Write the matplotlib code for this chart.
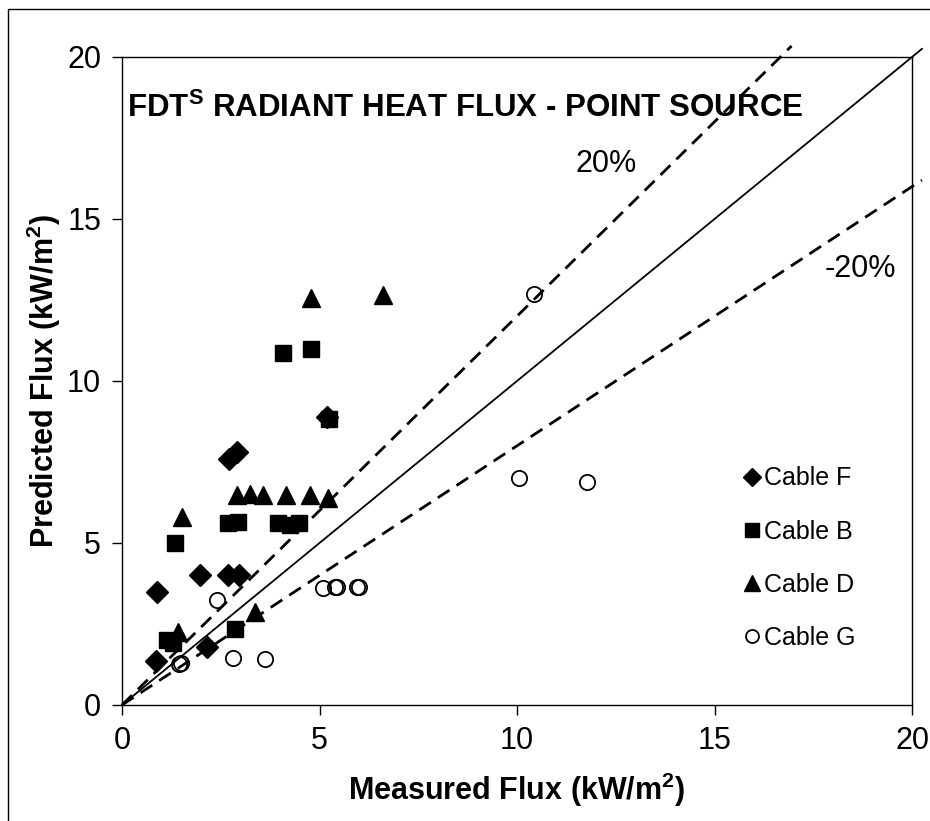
import matplotlib
matplotlib.use("Agg")
import matplotlib.pyplot as plt

plt.rcParams['font.family'] = ['Liberation Sans', 'DejaVu Sans']
plt.rcParams['mathtext.fontset'] = 'custom'
plt.rcParams['mathtext.rm'] = 'Liberation Sans:bold'
plt.rcParams['mathtext.bf'] = 'Liberation Sans:bold'

# measured / predicted heat flux (kW/m2)
f_meas = [0.88, 0.86, 1.97, 2.69, 2.97, 2.14, 2.7, 2.9, 5.18]
f_pred = [3.5, 1.35, 4.0, 4.0, 4.0, 1.78, 7.6, 7.8, 8.9]

b_meas = [4.07, 4.78, 5.23, 1.34, 2.69, 2.94, 3.95, 4.25, 4.48, 2.86, 1.13, 1.30]
b_pred = [10.87, 10.99, 8.83, 5.0, 5.63, 5.65, 5.63, 5.55, 5.63, 2.36, 2.0, 1.9]

d_meas = [4.78, 6.6, 1.53, 2.9, 3.25, 3.56, 4.16, 4.77, 5.22, 3.36, 1.42]
d_pred = [12.55, 12.65, 5.79, 6.48, 6.5, 6.48, 6.48, 6.48, 6.4, 2.88, 2.26]

g_meas = [10.44, 10.06, 11.76, 5.09, 5.38, 5.45, 5.96, 6.0, 2.41, 2.81, 3.62, 1.45, 1.5]
g_pred = [12.7, 7.02, 6.88, 3.6, 3.65, 3.65, 3.65, 3.65, 3.24, 1.44, 1.41, 1.25, 1.3]

# reference lines
line_x = [0, 20.25]
upper_x = [0, 16.95]

fig = plt.figure(figsize=(9.3, 8.21), dpi=100)
ax = fig.add_axes([0.1312, 0.1413, 0.8495, 0.7893])

ax.plot(line_x, line_x, '-', color='black', lw=1.3, clip_on=False, zorder=1)
ax.plot(upper_x, [1.2 * v for v in upper_x], '--', color='black', lw=2.0,
        dashes=(5, 3), clip_on=False, zorder=1)
ax.plot(line_x, [0.8 * v for v in line_x], '--', color='black', lw=2.0,
        dashes=(5, 3), clip_on=False, zorder=1)

ax.plot(f_meas, f_pred, 'D', color='black', ms=11, ls='none', label='Cable F')
ax.plot(b_meas, b_pred, 's', color='black', ms=11.5, ls='none', label='Cable B')
ax.plot(d_meas, d_pred, '^', color='black', ms=13, ls='none', label='Cable D')
ax.plot(g_meas, g_pred, 'o', mfc='none', mec='black', mew=1.3, ms=11, ls='none',
        label='Cable G')

ax.set_xlim(0, 20)
ax.set_ylim(0, 20)
ax.set_xticks([0, 5, 10, 15, 20])
ax.set_yticks([0, 5, 10, 15, 20])
ax.tick_params(direction='out', length=7, width=1, labelsize=22, pad=8)
for s in ax.spines.values():
    s.set_linewidth(1)

ax.set_xlabel(r'Measured Flux (kW/m$^{\mathbf{2}}$)', fontsize=22, fontweight='bold',
              labelpad=11)
ax.set_ylabel(r'Predicted Flux (kW/m$^{\mathbf{2}}$)', fontsize=22, fontweight='bold',
              labelpad=3)

ax.text(0.13, 18.4, r'FDT$^{\mathbf{S}}$ RADIANT HEAT FLUX - POINT SOURCE',
        fontsize=22.5, fontweight='bold', va='center', ha='left')
ax.text(12.25, 16.7, '20%', fontsize=22, ha='center', va='center')
ax.text(18.68, 13.45, '-20%', fontsize=22, ha='center', va='center')

leg = ax.legend(loc='upper left', bbox_to_anchor=(0.753, 0.403), frameon=False,
                fontsize=18, handletextpad=0.0, labelspacing=1.17,
                handlelength=1.0, markerscale=0.85)

fig.add_artist(plt.Rectangle((8 / 930, -0.5), 2, 1.5 - 9 / 821,
                             transform=fig.transFigure, fill=False,
                             lw=1, color='black'))

fig.savefig('out.png', dpi=100)
